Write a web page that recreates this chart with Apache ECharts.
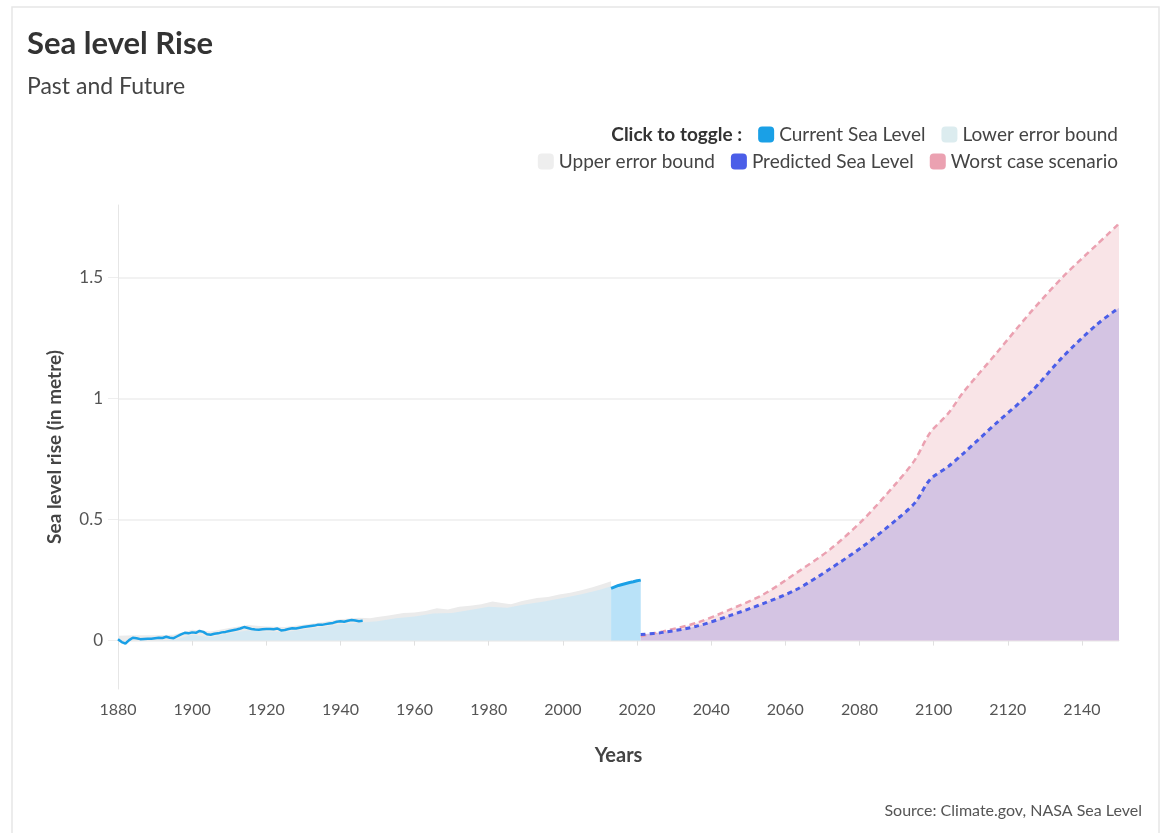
<!DOCTYPE html>
<html>
<head>
<meta charset="utf-8">
<script src="https://cdn.jsdelivr.net/npm/echarts@6/dist/echarts.min.js"></script>
<style>
html,body{margin:0;padding:0;background:#fff;}
#chart{width:1163px;height:833px;}
</style>
</head>
<body>
<div id="chart"></div>
<script>
// ---- Data ----
const xTicks = [1880, 1900, 1920, 1940, 1960, 1980, 2000, 2020, 2040, 2060, 2080, 2100, 2120, 2140];
const yTicks = [0, 0.5, 1, 1.5];

// Observed sea level (past segment, 1880-1946)
const pastYears = [1880,1881,1882,1883,1884,1885,1886,1887,1888,1889,1890,1891,1892,1893,1894,1895,1896,1897,1898,1899,
  1900,1901,1902,1903,1904,1905,1906,1907,1908,1909,1910,1911,1912,1913,1914,1915,1916,1917,1918,1919,
  1920,1921,1922,1923,1924,1925,1926,1927,1928,1929,1930,1931,1932,1933,1934,1935,1936,1937,1938,1939,
  1940,1941,1942,1943,1944,1945,1946];
const pastLevel = [0.006,-0.006,-0.012,0.002,0.012,0.010,0.006,0.007,0.008,0.008,0.010,0.012,0.011,0.016,0.012,0.010,0.018,0.026,0.032,0.030,
  0.034,0.032,0.040,0.036,0.026,0.024,0.028,0.030,0.034,0.036,0.040,0.043,0.046,0.050,0.056,0.052,0.048,0.046,0.045,0.047,
  0.048,0.048,0.047,0.050,0.042,0.044,0.048,0.051,0.050,0.053,0.056,0.058,0.060,0.062,0.066,0.065,0.068,0.071,0.073,0.078,
  0.080,0.078,0.082,0.085,0.083,0.080,0.082];

// Observed sea level (recent segment)
const recentYears = [2013,2014,2015,2016,2017,2018,2019,2020,2021];
const recentLevel = [0.216,0.222,0.228,0.232,0.236,0.240,0.243,0.247,0.250];

// Error bounds
const upperYears = [1880,1885,1890,1895,1900,1905,1910,1915,1920,1925,1930,1935,1940,1945,1948,1950,1953,1957,1960,1963,
  1966,1969,1972,1975,1978,1981,1984,1986,1989,1993,1996,1999,2002,2005,2008,2011,2013];
const upperBound = [0.020,0.022,0.022,0.024,0.045,0.038,0.052,0.064,0.058,0.056,0.066,0.076,0.088,0.094,0.092,0.098,0.104,0.114,0.116,0.122,
  0.134,0.128,0.140,0.144,0.150,0.162,0.154,0.150,0.164,0.176,0.180,0.190,0.198,0.208,0.220,0.235,0.245];
const lowerYears = [1880,1885,1890,1895,1900,1905,1910,1915,1920,1925,1930,1935,1940,1945,1950,1955,1960,1965,1970,1975,
  1980,1985,1990,1995,2000,2005,2010,2013];
const lowerBound = [0.000,0.000,0.000,0.002,0.024,0.014,0.030,0.042,0.038,0.034,0.046,0.056,0.068,0.074,0.080,0.092,0.100,0.112,0.114,0.126,
  0.140,0.136,0.150,0.162,0.176,0.192,0.210,0.225];

// Projections
const projYears = [2021,2027,2036,2045,2054,2063,2072,2081,2090,2095,2099,2104,2108,2117,2126,2135,2144,2150];
const predicted = [0.025,0.034,0.059,0.103,0.153,0.211,0.296,0.390,0.500,0.570,0.665,0.720,0.773,0.900,1.023,1.175,1.306,1.375];
const worstCase = [0.018,0.038,0.073,0.128,0.190,0.280,0.376,0.500,0.652,0.748,0.858,0.940,1.026,1.189,1.354,1.505,1.636,1.723];

const zip = (xs, ys) => xs.map((x, i) => [x, ys[i]]);

// ---- Chart ----
const FONT = 'Lato';
const chart = echarts.init(document.getElementById('chart'), null, {renderer: 'canvas'});

const legendCommon = {
  right: 45,
  padding: 0,
  itemWidth: 16,
  itemHeight: 16,
  itemGap: 16,
  icon: 'roundRect',
  itemStyle: {borderWidth: 0},
  textStyle: {fontFamily: FONT, fontSize: 19, color: '#444'},
  inactiveColor: '#ccc'
};

const option = {
  backgroundColor: '#fff',
  animation: false,
  textStyle: {fontFamily: FONT},
  graphic: [{
    type: 'rect', silent: true, z: -10,
    shape: {x: 12, y: 7, width: 1147, height: 900},
    style: {fill: 'none', stroke: '#e6e6e6', lineWidth: 1.5}
  }],
  title: [
    {text: 'Sea level Rise', left: 27, top: 28, padding: 0,
     textStyle: {fontFamily: FONT, fontSize: 31, fontWeight: 'bold', color: '#333'}},
    {text: 'Past and Future', left: 27, top: 75, padding: 0,
     textStyle: {fontFamily: FONT, fontSize: 23, fontWeight: 'normal', color: '#444'}},
    {text: 'Source: Climate.gov, NASA Sea Level', right: 21, top: 803, padding: 0,
     textStyle: {fontFamily: FONT, fontSize: 16, fontWeight: 'normal', color: '#555'}}
  ],
  legend: [
    Object.assign({}, legendCommon, {
      top: 125,
      data: [
        {name: 'Click to toggle :', icon: 'none', textStyle: {fontWeight: 'bold', color: '#333'}},
        {name: 'Current Sea Level', itemStyle: {color: '#1aa0e6'}},
        {name: 'Lower error bound', itemStyle: {color: '#dcecef'}}
      ]
    }),
    Object.assign({}, legendCommon, {
      top: 152,
      data: [
        {name: 'Upper error bound', itemStyle: {color: '#eeeeee'}},
        {name: 'Predicted Sea Level', itemStyle: {color: '#4b5ee8'}},
        {name: 'Worst case scenario', itemStyle: {color: '#eba1b1'}}
      ]
    })
  ],
  grid: {left: 118, right: 44, top: 205, bottom: 144, containLabel: false},
  xAxis: {
    type: 'value',
    min: 1880, max: 2150, interval: 20,
    name: 'Years', nameLocation: 'middle', nameGap: 57,
    nameTextStyle: {fontFamily: FONT, fontSize: 20, fontWeight: 'bold', color: '#444'},
    axisLine: {show: true, lineStyle: {color: '#e6e6e6', width: 1}},
    axisTick: {show: true, length: 5, customValues: xTicks, lineStyle: {color: '#e0e0e0'}},
    axisLabel: {customValues: xTicks, formatter: v => String(v), fontFamily: FONT, fontSize: 16, color: '#555', margin: 13},
    splitLine: {show: false}
  },
  yAxis: {
    type: 'value',
    min: -0.2, max: 1.8,
    name: 'Sea level rise (in metre)', nameLocation: 'middle', nameGap: 54,
    nameTextStyle: {fontFamily: FONT, fontSize: 19, fontWeight: 'bold', color: '#444'},
    axisLine: {show: true, lineStyle: {color: '#e6e6e6', width: 1}},
    axisTick: {show: true, length: 10, customValues: yTicks, lineStyle: {color: '#eeeeee'}},
    axisLabel: {customValues: yTicks, formatter: v => String(v), fontFamily: FONT, fontSize: 17, color: '#555', margin: 15},
    splitLine: {show: true, lineStyle: {color: '#eeeeee', width: 1.5}}
  },
  series: [
    {name: 'Click to toggle :', type: 'line', data: []},
    {
      name: 'Upper error bound', type: 'line', data: zip(upperYears, upperBound),
      symbol: 'none', silent: true,
      itemStyle: {color: '#eeeeee'},
      lineStyle: {width: 0},
      areaStyle: {color: '#ebebeb', opacity: 1}
    },
    {
      name: 'Lower error bound', type: 'line', data: zip(lowerYears, lowerBound),
      symbol: 'none', silent: true,
      itemStyle: {color: '#dcecef'},
      lineStyle: {width: 0},
      areaStyle: {color: '#d5e9f3', opacity: 1}
    },
    {
      name: 'Current Sea Level', type: 'line', data: zip(recentYears, recentLevel),
      symbol: 'none',
      itemStyle: {color: '#1aa0e6'},
      lineStyle: {color: '#1aa0e6', width: 3},
      areaStyle: {color: '#b9e2f8', opacity: 1}
    },
    {
      name: 'Current Sea Level', type: 'line', data: zip(pastYears, pastLevel),
      symbol: 'none',
      itemStyle: {color: '#1aa0e6'},
      lineStyle: {color: '#1aa0e6', width: 2.5}
    },
    {
      name: 'Worst case scenario', type: 'line', data: zip(projYears, worstCase),
      symbol: 'none', smooth: 0.3,
      itemStyle: {color: '#eba1b1'},
      lineStyle: {color: '#eba1b1', width: 2.5, type: [6, 4]},
      areaStyle: {color: '#f9e4e7', opacity: 1}
    },
    {
      name: 'Predicted Sea Level', type: 'line', data: zip(projYears, predicted),
      symbol: 'none', smooth: 0.3,
      itemStyle: {color: '#4b5ee8'},
      lineStyle: {color: '#4b5ee8', width: 3, type: [5, 4]},
      areaStyle: {color: '#d4c4e3', opacity: 1}
    }
  ]
};
chart.setOption(option);
</script>
</body>
</html>
